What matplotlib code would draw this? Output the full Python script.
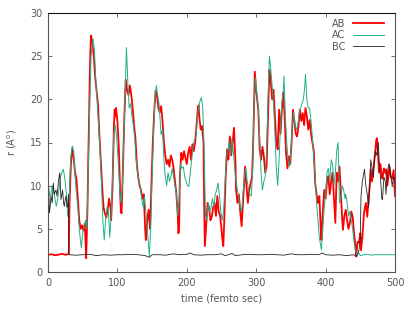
import matplotlib
matplotlib.use("Agg")
import matplotlib.pyplot as plt

# AB (red, thick)
t_ab = [0, 5, 10, 15, 20, 25, 28, 30, 31, 33, 35, 37, 39, 41, 43, 45, 47, 49, 51, 53, 54, 55, 56, 57, 58, 59,
        60, 61, 62, 63, 64, 66, 68, 70, 72, 74, 76, 78, 80, 82, 84, 86, 88, 90, 91, 93, 95, 96, 97, 98,
        100, 102, 103, 104, 105, 106, 108, 110, 112, 114, 116, 118, 120, 122, 124, 126, 128, 130, 132, 134,
        136, 138, 140, 141, 143, 145, 147, 149, 151, 153, 155, 157, 159, 161, 163, 165, 167, 169, 171, 173,
        175, 177, 179, 181, 183, 185, 187, 188, 189, 190, 192, 194, 196, 198, 200, 202, 204, 206, 208, 210,
        212, 214, 216, 217, 218, 220, 222, 224, 225, 226, 228, 230, 232, 234, 236, 238, 240, 242, 244, 246,
        248, 250, 251, 252.6, 254, 256, 258, 260, 262, 264, 266, 268, 270, 271, 273, 275, 277, 279, 281, 283,
        284, 286, 288, 290, 292, 294, 296, 298, 300, 302, 303, 305, 307, 309, 311, 313, 315, 317, 319, 321,
        323, 325, 327, 329, 331, 333, 335, 337, 339, 341, 343, 345, 347, 349, 351, 353, 355, 357, 359, 361,
        363, 365, 367, 369, 371, 373, 375, 377, 379, 381, 383, 385, 387, 389, 391, 393, 394, 396, 398, 400,
        402, 404, 406, 408, 410, 412, 414, 416, 418, 420, 422, 424, 425, 427, 429, 431, 433, 435, 437, 439,
        441, 443, 444, 446, 448, 450, 451, 453, 455, 456, 458, 460, 462, 464, 465, 467, 469, 471, 473, 474,
        476, 477, 479, 481, 482, 484, 486, 487, 489, 491, 492, 494, 496, 498, 500]
r_ab = [2.0, 2.05, 1.95, 2.0, 2.1, 2.0, 2.05, 2.1, 8, 12.5, 14.3, 13.2, 11.5, 10.8, 8.5, 6.0, 5.0, 5.4, 4.8, 5.6, 3.5, 1.6, 4.5, 8, 13, 17,
        22, 25.5, 27.4, 27.0, 26.5, 25.0, 22.5, 21.0, 19.5, 16.0, 13.0, 10.0, 7.5, 6.8, 6.3, 7.2, 8.5, 7.5, 6.0, 10, 17, 18.8, 18.0, 19.0,
        17.5, 14.5, 12.0, 9.0, 7.0, 6.8, 12, 18, 22.3, 21.0, 20.5, 21.6, 20.5, 19.0, 17.0, 15.5, 12.5, 11.0, 10.0, 9.5,
        8.5, 9.0, 5.0, 3.7, 6.0, 7.2, 5.0, 10, 15, 18.5, 21.0, 20.5, 19.0, 18.5, 19.2, 17.5, 15.0, 13.5, 12.5, 13.0,
        12.2, 13.5, 13.0, 12.0, 10.5, 9.0, 6.5, 4.5, 5.5, 11, 13.8, 13.0, 14.0, 13.2, 12.5, 13.8, 14.5, 13.0, 14.8, 14.0,
        15.0, 17.0, 19.0, 19.3, 18.0, 16.5, 16.9, 15.0, 8, 3.0, 5.5, 8.0, 7.5, 6.0, 6.4, 7.5, 8.0, 6.5, 8.8, 7.0,
        6.5, 5.0, 4.0, 3.0, 6, 11, 14.2, 13.0, 15.7, 13.5, 15.0, 16.7, 13.0, 9.5, 8.0, 9.0, 7.0, 5.3, 8.0, 10.5,
        12.2, 10.0, 8.0, 9.5, 10.3, 11.0, 16, 23.2, 21.0, 19.5, 18.8, 14.2, 13.0, 14.5, 13.4, 11.5, 12.2, 18, 23.4, 22.0,
        20.0, 21.1, 18.0, 15.0, 14.2, 18.8, 16.0, 18.8, 20.8, 18.0, 13.8, 12.0, 13.4, 12.5, 15.0, 18.8, 17.5, 16.0, 15.7, 17.0,
        18.8, 17.5, 18.4, 17.0, 19.0, 18.0, 16.5, 17.6, 16.0, 15.0, 14.0, 10.3, 9.0, 8.0, 8.8, 5.0, 3.7, 7.0, 9.5, 8.5,
        10.5, 11.1, 9.0, 10.5, 11.5, 8.5, 5.7, 11.5, 10.5, 12.2, 9.0, 6.0, 4.9, 6.5, 7.2, 6.0, 5.0, 5.7, 7.0, 6.4,
        4.5, 3.0, 1.8, 3.5, 3.4, 4.5, 2.5, 4.0, 6.5, 7.2, 8.0, 6.4, 8.5, 10.5, 11.9, 10.5, 12.0, 13.5, 15.3, 15.5,
        13.0, 11.5, 12.5, 11.0, 10.8, 12.0, 11.5, 11.9, 10.0, 11.5, 12.2, 11.0, 10.8, 11.8, 8.8]

# AC (teal, thin)
t_ac = [0, 2, 4, 6, 8, 10, 12, 14, 16, 18, 20, 22, 24, 26, 28, 29, 31, 33, 35, 37, 39, 41, 43, 45, 47, 48,
        50, 52, 54, 56, 58, 60, 62, 64, 65, 67, 69, 71, 73, 75, 77, 79, 81, 83, 85, 87, 89, 91, 93, 95,
        97, 99, 101, 103, 105, 107, 109, 111, 113, 115, 117, 119, 121, 123, 125, 127, 129, 131, 133, 135,
        137, 139, 141, 143, 145, 146, 148, 150, 152, 154, 156, 158, 160, 162, 163, 165, 167, 169, 171, 173,
        175, 177, 179, 181, 183, 185, 187, 189, 191, 193, 195, 197, 199, 201, 203, 205, 207, 209, 211, 213,
        215, 217, 219, 221, 223, 225, 227, 229, 231, 233, 235, 237, 239, 241, 243, 245, 247, 249, 251, 253,
        255, 257, 259, 261, 263, 265, 267, 269, 271, 273, 275, 277, 279, 281, 283, 285, 287, 289, 291, 293,
        295, 297, 299, 301, 303, 305, 307, 309, 311, 313, 315, 317, 319, 321, 323, 325, 327, 329, 331, 333,
        335, 337, 339, 340, 342, 344, 346, 348, 350, 352, 354, 356, 358, 360, 362, 364, 366, 368, 370, 371,
        373, 375, 377, 379, 381, 383, 385, 387, 389, 391, 393, 394, 396, 398, 400, 402, 404, 406, 408, 410,
        412, 414, 416, 418, 420, 422, 424, 426, 428, 429, 431, 433, 435, 437, 439, 441, 443, 445, 448, 450,
        455, 460, 465, 470, 475, 480, 485, 490, 495, 500]
r_ac = [10.0, 9.0, 8.8, 10.0, 9.5, 8.5, 7.6, 8.5, 9.8, 11.0, 11.5, 11.9, 11.0, 9.5, 7.0, 6.4, 9.5, 13.5, 14.6, 14.0, 11.0, 9.0, 7.5, 5.0, 3.5, 2.8,
        4.5, 5.2, 6.0, 5.0, 12, 19, 25, 26.5, 27.0, 25.5, 22.0, 19.5, 17.0, 14.0, 10.5, 6.0, 3.7, 6.0, 7.5, 7.0, 4.0, 6.5, 11, 16,
        17.0, 15.5, 13.0, 10.0, 8.0, 9.5, 15, 20, 26.0, 22.0, 19.0, 19.5, 18.0, 17.0, 15.5, 13.0, 11.5, 10.5, 9.9, 8.5,
        7.5, 8.8, 7.0, 5.0, 3.0, 1.8, 5.0, 11, 16.0, 20.0, 21.6, 20.5, 19.5, 17.0, 15.9, 16.5, 13.0, 11.0, 10.0, 11.5,
        10.5, 11.0, 12.0, 11.0, 10.0, 9.0, 6.5, 8.5, 12.5, 12.0, 12.2, 11.0, 10.5, 10.0, 9.9, 11.5, 13.0, 14.5, 15.3, 15.5,
        17.5, 19.0, 19.8, 20.2, 19.0, 14, 6.5, 6.0, 8.0, 7.0, 7.5, 8.5, 7.5, 9.0, 9.5, 10.3, 9.0, 7.0, 6.0, 7.0,
        10, 13.5, 14.0, 15.0, 13.5, 15.5, 14.0, 12.0, 10.5, 9.5, 8.5, 7.5, 7.0, 9.0, 11.0, 12.0, 10.5, 9.5, 9.0, 8.8,
        12, 20, 22.5, 20.5, 19.0, 15.5, 11.5, 9.5, 10.5, 11.0, 14.0, 20.0, 25.0, 23.5, 21.5, 19.5, 16.0, 12.0, 10.0, 13.0,
        17.0, 19.5, 21.0, 22.7, 18.0, 15.0, 12.8, 12.2, 14.0, 17.0, 18.5, 17.0, 16.5, 17.0, 18.5, 19.0, 19.5, 20.0, 21.5, 22.9,
        20.0, 19.0, 19.0, 17.5, 15.5, 13.0, 11.0, 8.0, 6.0, 4.0, 3.0, 2.6, 5.0, 7.5, 9.0, 11.5, 12.0, 10.5, 13.0, 12.5,
        10.0, 11.5, 14.0, 15.0, 8.0, 8.5, 10.0, 9.5, 8.5, 9.0, 8.0, 6.5, 7.0, 6.0, 5.0, 3.5, 2.5, 2.0, 2.2, 1.9,
        2.0, 2.05, 1.95, 2.0, 2.0, 2.0, 2.0, 2.0, 2.0, 2.0]

# BC (black, thin)
t_bc = [0, 1, 2, 3, 4.3, 6, 7.7, 9, 11.5, 13, 15.4, 17, 18.7, 20, 21, 22.5, 23.5, 25, 26, 27.5, 28.3, 29.5, 30,
        40, 50, 60, 70, 80, 90, 100, 110, 120, 130, 140, 146, 150, 160, 170, 180, 190, 200, 205, 210, 220,
        230, 240, 250, 255, 260, 265, 270, 280, 290, 300, 310, 320, 330, 340, 350, 360, 370, 380, 390, 395,
        400, 410, 420, 430, 440, 445, 448, 450, 451, 453, 456, 458, 460, 462, 464, 465, 467, 469, 470, 472,
        474, 476, 477, 479, 481, 482, 484, 486, 487, 489, 491, 492, 494, 496, 498, 500]
r_bc = [8.5, 10.0, 6.9, 7.5, 8.8, 8.0, 10.3, 9.0, 9.5, 8.8, 10.7, 11.5, 8.4, 9.0, 9.5, 8.0, 7.6, 8.5, 8.8, 7.5, 7.6, 9.0, 2.0,
        1.95, 2.0, 2.05, 1.9, 2.0, 1.95, 2.0, 2.0, 2.05, 2.0, 1.9, 1.7, 2.0, 2.0, 1.95, 2.1, 2.0, 2.05, 2.2, 2.0, 1.95,
        2.0, 2.0, 2.1, 1.9, 2.0, 2.15, 1.9, 2.0, 2.05, 2.0, 2.0, 2.05, 2.0, 1.95, 2.1, 2.0, 2.0, 2.05, 2.0, 2.2,
        2.0, 1.95, 2.0, 1.9, 2.0, 1.8, 2.5, 4.0, 8.8, 10.5, 11.9, 10.0, 9.0, 7.5, 10.5, 13.0, 12.0, 11.0, 12.8, 14.0,
        13.5, 15.0, 13.0, 11.0, 8.5, 8.4, 11.0, 10.5, 9.0, 11.5, 12.5, 12.5, 11.0, 10.0, 11.0, 10.8]

txt = '#555555'
plt.rcParams['font.family'] = ['DejaVu Sans']

fig = plt.figure(figsize=(4.15, 3.12), dpi=100)
ax = fig.add_axes([48/415, 1-272/312, 347/415, 259/312])

ax.plot(t_ab, r_ab, color='#ff0000', lw=1.3, label='AB')
ax.plot(t_ac, r_ac, color='#1fb08a', lw=0.7, label='AC')
ax.plot(t_bc, r_bc, color='#222222', lw=0.6, label='BC')

ax.set_xlim(0, 500)
ax.set_ylim(0, 30)
ax.set_xticks([0, 100, 200, 300, 400, 500])
ax.set_yticks([0, 5, 10, 15, 20, 25, 30])
ax.tick_params(direction='in', length=3, width=0.6, top=True, right=True,
               labelsize=7, labelcolor=txt, color='#555555', pad=4)
for s in ax.spines.values():
    s.set_color('#555555')
    s.set_linewidth(0.8)
ax.spines['top'].set_color('#111111')

ax.set_xlabel('time (femto sec)', fontsize=7, color=txt, labelpad=4)
ax.set_ylabel('r (A$^\\mathrm{o}$)', fontsize=7, color=txt, labelpad=8)

leg = ax.legend(loc='upper right', frameon=False, markerfirst=False, fontsize=7,
                handlelength=3.2, handletextpad=0.8, labelspacing=0.15,
                borderaxespad=0.2, bbox_to_anchor=(0.985, 1.0))
for t in leg.get_texts():
    t.set_color(txt)

fig.savefig('out.png', dpi=100)
